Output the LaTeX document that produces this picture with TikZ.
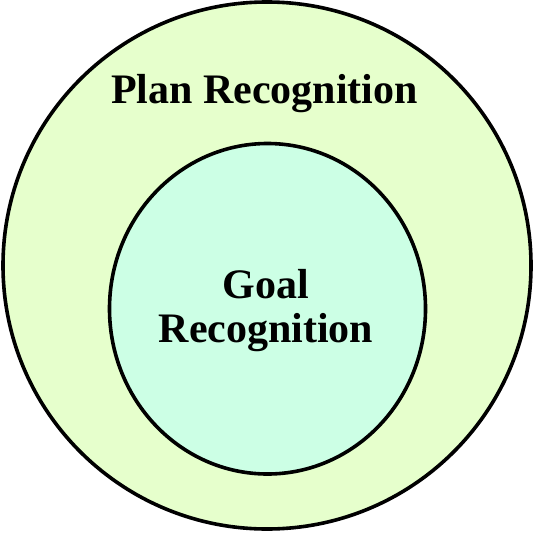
\documentclass[tikz,border=0pt]{standalone}
\usepackage{fontspec}
\setmainfont{Liberation Serif}
\begin{document}
\begin{tikzpicture}[x=1pt,y=-1pt,
  ring/.style={draw=black,line width=3.6pt},
  lbl/.style={font=\fontsize{42}{44}\selectfont\bfseries,inner sep=0pt,anchor=base,align=center}]
\useasboundingbox (0,0) rectangle (534,532);
\definecolor{outerfill}{RGB}{230,255,204}
\definecolor{innerfill}{RGB}{204,255,229}
\draw[ring,fill=outerfill] (267,265.5) ellipse [x radius=264,y radius=263.5];
\draw[ring,fill=innerfill] (267.5,308.75) ellipse [x radius=158,y radius=165.25];
\node[lbl] (plan) at (264.5,103) {Plan Recognition};
\node[lbl] (goal) at (266,298) {Goal};
\node[lbl] (rec) at (266,342) {Recognition};
\end{tikzpicture}
\end{document}
